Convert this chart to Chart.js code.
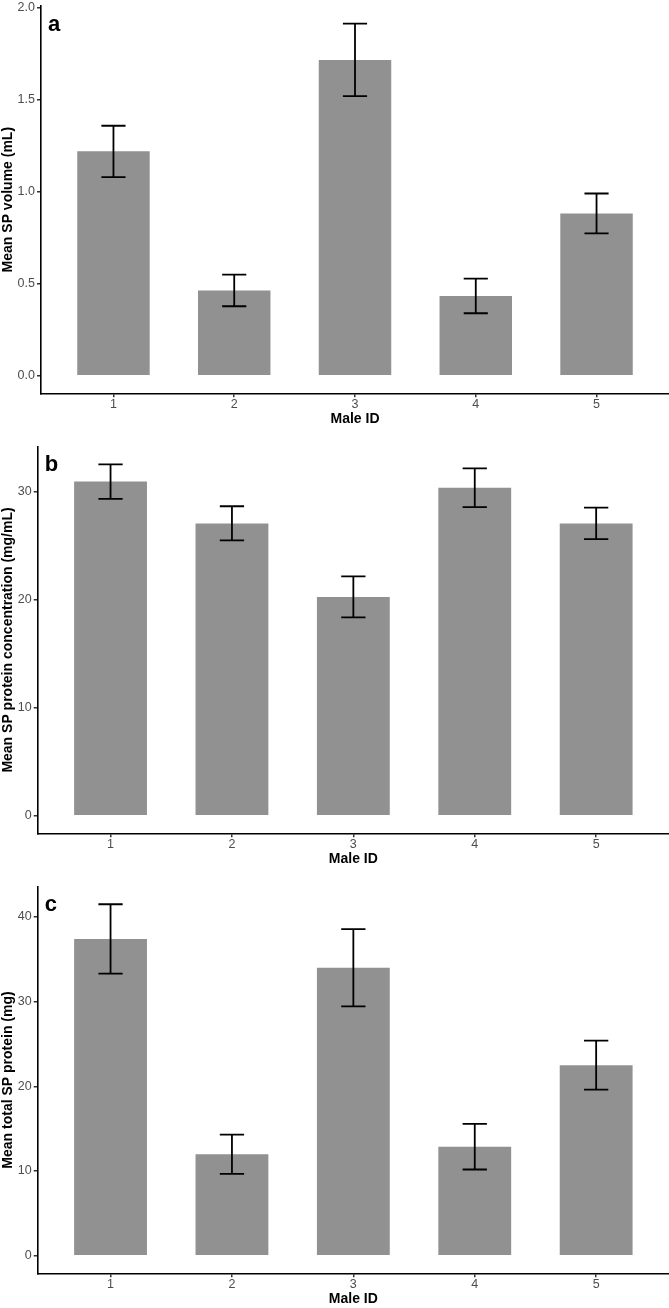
<!DOCTYPE html>
<html lang="en">
  <head>
    <meta charset="utf-8">
    <title>Mean SP volume, concentration and total protein by male</title>
    <script src="https://cdn.jsdelivr.net/npm/chart.js"></script>
    <style>
      body {
        margin: 0;
        background: #fff;
      }
      #figure {
        position: relative;
        width: 669px;
        height: 1308px;
      }
      canvas {
        position: absolute;
        left: 0;
      }
    </style>
  </head>
  <body>
    <div id="figure">
      <canvas id="volumeChart" width="669" height="430" style="top: 0px"></canvas>
      <canvas id="concChart" width="669" height="438" style="top: 430px"></canvas>
      <canvas id="totalChart" width="669" height="440" style="top: 868px"></canvas>
    </div>

    <script>
      // Data (mean with error bar ends)
      const maleIds = [1, 2, 3, 4, 5];

      const volumeMean = [1.219, 0.462, 1.714, 0.433, 0.880];
      const volumeLower = [1.078, 0.377, 1.518, 0.339, 0.773];
      const volumeUpper = [1.357, 0.549, 1.911, 0.527, 0.989];
      const volumeTicks = [0, 0.5, 1.0, 1.5, 2.0];

      const concMean = [30.92, 27.05, 20.25, 30.34, 27.05];
      const concLower = [29.33, 25.48, 18.35, 28.55, 25.60];
      const concUpper = [32.52, 28.64, 22.15, 32.15, 28.52];
      const concTicks = [0, 10, 20, 30];

      const totalMean = [37.40, 11.99, 34.00, 12.88, 22.50];
      const totalLower = [33.30, 9.67, 29.45, 10.18, 19.61];
      const totalUpper = [41.50, 14.30, 38.56, 15.57, 25.39];
      const totalTicks = [0, 10, 20, 30, 40];

      const FONT = '"Liberation Sans", Arial, Helvetica, sans-serif';
      const BAR_COLOR = "#919191";
      const TICK_COLOR = "#4d4d4d";

      // error bars with caps, drawn through the chart scales
      const errorBars = {
        id: "errorBars",
        afterDatasetsDraw(chart, args, opts) {
          const {ctx, scales: {x, y}} = chart;
          ctx.save();
          ctx.strokeStyle = "#000";
          ctx.lineWidth = 1.8;
          opts.lower.forEach((lo, i) => {
            const xc = x.getPixelForValue(maleIds[i]);
            const xl = x.getPixelForValue(maleIds[i] - 0.1);
            const xr = x.getPixelForValue(maleIds[i] + 0.1);
            const yl = y.getPixelForValue(lo);
            const yh = y.getPixelForValue(opts.upper[i]);
            ctx.beginPath();
            ctx.moveTo(xc, yl);
            ctx.lineTo(xc, yh);
            ctx.moveTo(xl, yl);
            ctx.lineTo(xr, yl);
            ctx.moveTo(xl, yh);
            ctx.lineTo(xr, yh);
            ctx.stroke();
          });
          ctx.restore();
        }
      };

      // panel letter in the top left corner of the plot
      const panelLetter = {
        id: "panelLetter",
        afterDraw(chart, args, opts) {
          const {ctx, chartArea} = chart;
          ctx.save();
          ctx.fillStyle = "#000";
          ctx.font = "bold 22px " + FONT;
          ctx.textBaseline = "alphabetic";
          ctx.fillText(opts.text, chartArea.left + 7, chartArea.top + 24.5);
          ctx.restore();
        }
      };

      function displayChart(id, p) {
        new Chart(document.getElementById(id).getContext("2d"), {
          type: "bar",
          data: {
            datasets: [{
              data: maleIds.map((m, i) => ({x: m, y: p.mean[i]})),
              backgroundColor: BAR_COLOR,
              borderWidth: 0,
              barPercentage: 0.6,
              categoryPercentage: 1.0
            }]
          },
          options: {
            responsive: false,
            animation: false,
            events: [],
            layout: { padding: { top: p.padTop, bottom: p.padBottom, left: 0, right: 0 } },
            plugins: {
              legend: { display: false },
              tooltip: { enabled: false },
              errorBars: { lower: p.lower, upper: p.upper },
              panelLetter: { text: p.letter }
            },
            scales: {
              x: {
                type: "linear",
                min: 0.4,
                max: 5.6,
                offset: false,
                afterBuildTicks: s => { s.ticks = maleIds.map(v => ({value: v})); },
                afterFit: s => { s.height = 34.4; s.paddingLeft = 0; s.paddingRight = 0; },
                grid: { offset: false, drawOnChartArea: false, drawTicks: true, tickLength: 4, color: "#333", lineWidth: 1.5 },
                border: { display: true, color: "#000", width: 1.6 },
                ticks: { padding: 0, color: TICK_COLOR, font: { family: FONT, size: 12.5 }, maxRotation: 0 },
                title: {
                  display: true,
                  text: "Male ID",
                  color: "#000",
                  padding: 0,
                  font: { family: FONT, size: 14, weight: "bold" }
                }
              },
              y: {
                min: p.yMin,
                max: p.yMax,
                afterBuildTicks: s => { s.ticks = p.ticks.map(v => ({value: v})); },
                afterFit: s => { s.width = p.yWidth; s.paddingTop = 0; s.paddingBottom = 0; },
                grid: { drawOnChartArea: false, drawTicks: true, tickLength: 4, color: "#333", lineWidth: 1.5 },
                border: { display: true, color: "#000", width: 1.6 },
                ticks: {
                  padding: 2,
                  color: TICK_COLOR,
                  font: { family: FONT, size: 12.5 },
                  callback: v => p.fmt(v)
                },
                title: {
                  display: true,
                  text: p.title,
                  color: "#000",
                  padding: 0,
                  font: { family: FONT, size: 14, weight: "bold" }
                }
              }
            }
          },
          plugins: [errorBars, panelLetter]
        });
      }

      displayChart("volumeChart", {
        mean: volumeMean, lower: volumeLower, upper: volumeUpper,
        ticks: volumeTicks, yMin: -0.0956, yMax: 2.007, fmt: v => v.toFixed(1),
        title: "Mean SP volume (mL)", letter: "a",
        yWidth: 41, padTop: 6, padBottom: 2.3
      });
      displayChart("concChart", {
        mean: concMean, lower: concLower, upper: concUpper,
        ticks: concTicks, yMin: -1.626, yMax: 34.15, fmt: v => String(v),
        title: "Mean SP protein concentration (mg/mL)", letter: "b",
        yWidth: 37.7, padTop: 16.7, padBottom: 0.3
      });
      displayChart("totalChart", {
        mean: totalMean, lower: totalLower, upper: totalUpper,
        ticks: totalTicks, yMin: -2.075, yMax: 43.575, fmt: v => String(v),
        title: "Mean total SP protein (mg)", letter: "c",
        yWidth: 37.7, padTop: 18.7, padBottom: 0.3
      });
    </script>
  </body>
</html>
